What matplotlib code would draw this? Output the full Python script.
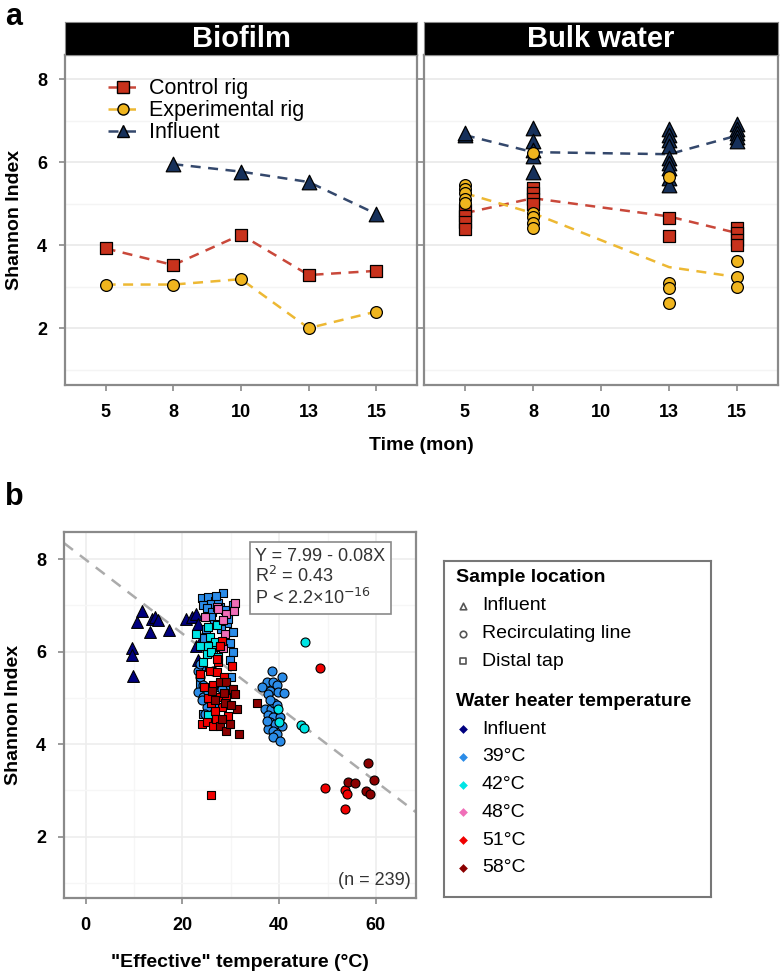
import matplotlib
matplotlib.use('Agg')
import matplotlib.pyplot as plt
from matplotlib.lines import Line2D
import numpy as np

plt.rcParams['font.family'] = ['Liberation Sans', 'DejaVu Sans']

# ---------------- panel a data ----------------
months = ['5', '8', '10', '13', '15']

bio_control = [3.92, 3.52, 4.25, 3.28, 3.38]
bio_exper = [3.05, 3.05, 3.18, 2.00, 2.40]
bio_influent = [np.nan, 5.95, 5.77, 5.52, 4.75]

bulk_months = ['5', '8', '13', '15']
bulk_influent = {'5': [6.65, 6.70],
                 '8': [6.82, 6.50, 6.30, 6.15, 5.77],
                 '13': [6.80, 6.65, 6.53, 6.39, 6.10, 5.98, 5.86, 5.62, 5.45],
                 '15': [6.92, 6.80, 6.70, 6.60, 6.50]}
bulk_control = {'5': [4.85, 4.70, 4.55, 4.40],
                '8': [5.38, 5.25, 5.10, 5.00],
                '13': [4.65, 4.22],
                '15': [4.41, 4.29, 4.12, 4.00]}
bulk_exper = {'5': [5.45, 5.35, 5.25, 5.12, 5.02],
              '8': [6.22, 4.77, 4.67, 4.53, 4.41],
              '13': [5.64, 3.08, 2.96, 2.60],
              '15': [3.61, 3.23, 2.99]}
bulk_influent_mean = [6.65, 6.24, 6.19, 6.64]
bulk_control_mean = [4.77, 5.13, 4.69, 4.29]
bulk_exper_mean = [5.25, 4.77, 3.47, 3.23]

# ---------------- panel b data ----------------
infl_tri_x = [9.5, 9.6, 9.8, 10.5, 11.7, 13.3, 13.6, 14.3, 15.0, 17.3, 20.8, 21.9, 22.9, 23.2, 22.9, 23.2, 24.0]
infl_tri_y = [6.08, 5.92, 5.48, 6.64, 6.89, 6.42, 6.71, 6.75, 6.69, 6.48, 6.71, 6.75, 6.82, 6.60, 6.13, 5.82, 6.30]

t39_sq_x = [28.3, 24.0, 25.3, 26.7, 24.3, 27.7, 30.5, 30.4, 29.8, 30.5, 29.8, 30.0, 23.6, 27.7, 29.8,
            24.3, 25.3, 23.6, 23.9, 26.0, 27.4, 25.0, 26.2, 28.9, 24.8, 29.2,
            25.8, 26.5, 28.0, 29.5, 24.5, 27.0]
t39_sq_y = [7.28, 7.17, 7.18, 7.10, 7.00, 6.97, 7.00, 6.42, 6.18, 5.99, 5.81, 5.45, 5.30, 5.23, 5.20,
            4.65, 4.58, 5.48, 5.66, 7.04, 7.05, 6.95, 6.85, 6.90, 6.50, 6.62,
            6.75, 6.60, 6.50, 6.70, 6.30, 7.20]
t39_ci_x = [23.3, 23.6, 24.3, 23.3, 24.3, 25.3, 28.1, 29.1, 25.0, 24.6, 25.7, 23.6, 26.4, 24.0, 26.8,
            38.6, 37.4, 38.8, 40.5, 39.5, 36.4, 38.1, 39.8, 40.9, 37.7, 37.1, 38.4, 37.7, 38.8,
            38.1, 39.1, 37.7, 38.8, 39.5, 38.8, 40.2, 37.4, 40.5, 40.2, 39.0, 38.2, 39.5]
t39_ci_y = [5.59, 5.45, 5.27, 5.12, 5.01, 5.12, 5.20, 5.09, 4.80, 4.65, 4.58, 5.74, 5.59, 4.95, 4.85,
            5.58, 5.34, 5.34, 5.45, 5.27, 5.23, 5.16, 5.12, 5.10, 5.09, 4.76, 4.76, 4.62, 4.58,
            4.47, 4.44, 4.33, 4.29, 4.22, 4.15, 4.07, 4.51, 4.40, 4.58, 4.90, 4.95, 4.85]
t42_sq_x = [22.9, 25.3, 27.1, 25.7, 23.6, 25.0, 26.4, 24.3, 25.3, 26.7, 25.3, 26.0, 27.4]
t42_sq_y = [6.39, 6.53, 6.57, 6.31, 6.13, 5.95, 6.03, 5.77, 4.62, 6.21, 6.13, 5.99, 5.88]
t42_ci_x = [39.8, 40.0, 45.3, 44.5, 45.2]
t42_ci_y = [4.76, 4.47, 6.21, 4.42, 4.35]
t48_sq_x = [27.1, 24.6, 29.1, 30.8, 28.4, 28.8, 27.7, 27.4, 30.7, 28.4]
t48_sq_y = [6.97, 6.75, 6.82, 7.05, 6.68, 6.39, 6.10, 6.93, 6.89, 6.08]
t51_sq_x = [23.6, 25.7, 27.1, 24.4, 26.4, 27.4, 27.7, 26.0, 28.1, 26.7, 24.0, 25.0, 26.4, 30.2,
            28.1, 27.7, 25.9, 27.1, 29.0, 25.2, 28.6, 27.0, 29.5]
t51_sq_y = [5.52, 5.59, 5.56, 5.23, 5.27, 5.77, 5.01, 4.90, 4.80, 4.72, 4.44, 4.47, 4.40, 5.70,
            6.24, 6.13, 2.90, 5.85, 5.00, 5.00, 5.45, 4.55, 4.60]
t51_ci_x = [48.4, 49.5, 53.6, 53.6, 54.0]
t51_ci_y = [5.65, 3.05, 2.59, 3.00, 2.92]
t58_sq_x = [27.7, 29.1, 30.5, 30.8, 28.8, 31.3, 27.7, 29.1, 31.7, 35.5, 29.8, 28.5, 26.8,
            26.2, 30.0, 28.2]
t58_sq_y = [5.34, 5.34, 5.20, 5.09, 4.90, 4.76, 4.40, 4.29, 4.22, 4.90, 4.44, 5.10, 4.95,
            5.15, 4.85, 4.55]
t58_ci_x = [54.3, 55.7, 58.4, 59.6, 57.9, 58.8]
t58_ci_y = [3.19, 3.15, 3.60, 3.22, 2.99, 2.93]

fit_a, fit_b = 7.99, -0.08
temp_labels = ['Influent', '39°C', '42°C', '48°C', '51°C', '58°C']
temp_colors = ['#00007F', '#2B8CE8', '#00E5E5', '#F06EB8', '#F00000', '#8B0000']

c_ctrl, c_exp, c_inf = '#C8321C', '#F0B51E', '#16305A'
l_ctrl, l_exp, l_inf = '#C9483A', '#EDB833', '#34486C'
spine_c = '#8A8A8A'

W, H = 781, 973
fig = plt.figure(figsize=(W / 100, H / 100), dpi=100)


def fax(x0, y0, x1, y1):
    return fig.add_axes([x0 / W, 1 - y1 / H, (x1 - x0) / W, (y1 - y0) / H])


def style(ax):
    for s in ax.spines.values():
        s.set_color(spine_c)
        s.set_linewidth(1.6)
    ax.tick_params(colors=spine_c, length=4, width=1.2, labelcolor='black', labelsize=13)
    ax.tick_params(axis='x', pad=10)
    ax.tick_params(axis='y', pad=9)
    for lab in ax.get_xticklabels() + ax.get_yticklabels():
        lab.set_fontweight('bold')


# ---------------- panel a ----------------
ax1 = fax(65, 55, 417, 385)
ax2 = fax(424, 55, 778, 385)
pos = np.arange(len(months))
bpos = [months.index(m) for m in bulk_months]

for ax in (ax1, ax2):
    ax.set_xlim(-0.6, 4.6)
    ax.set_ylim(0.63, 8.58)
    ax.set_yticks([2, 4, 6, 8])
    ax.set_yticks([1, 3, 5, 7], minor=True)
    ax.tick_params(which='minor', length=0)
    ax.grid(axis='y', which='major', color='#EBEBEB', lw=1.3, zorder=0)
    ax.grid(axis='y', which='minor', color='#F4F4F4', lw=1.0, zorder=0)
    ax.set_xticks(pos)
    ax.set_xticklabels(months)
    ax.set_axisbelow(True)

ms_kw = dict(edgecolors='black', linewidths=0.9, zorder=3)
dash = (0, (4, 3))

ax1.plot(pos, bio_control, ls=dash, color=l_ctrl, lw=1.8, zorder=2)
ax1.plot(pos, bio_exper, ls=dash, color=l_exp, lw=1.8, zorder=2)
ax1.plot(pos, bio_influent, ls=dash, color=l_inf, lw=1.8, zorder=2)
ax1.scatter(pos, bio_control, marker='s', s=75, color=c_ctrl, **ms_kw)
ax1.scatter(pos, bio_exper, marker='o', s=72, color=c_exp, **ms_kw)
ax1.scatter(pos, bio_influent, marker='^', s=110, color=c_inf, **ms_kw)

ax2.plot(bpos, bulk_influent_mean, ls=dash, color=l_inf, lw=1.8, zorder=2)
ax2.plot(bpos, bulk_control_mean, ls=dash, color=l_ctrl, lw=1.8, zorder=2)
ax2.plot(bpos, bulk_exper_mean, ls=dash, color=l_exp, lw=1.8, zorder=2)
for m in bulk_months:
    i = months.index(m)
    ax2.scatter([i] * len(bulk_influent[m]), bulk_influent[m], marker='^', s=110, color=c_inf, **ms_kw)
    ax2.scatter([i] * len(bulk_control[m]), bulk_control[m], marker='s', s=75, color=c_ctrl, **ms_kw)
    ax2.scatter([i] * len(bulk_exper[m]), bulk_exper[m], marker='o', s=72, color=c_exp, **ms_kw)

ax1.set_ylabel('Shannon Index', fontsize=14, fontweight='bold', labelpad=10)
ax2.set_yticklabels([])
ax2.tick_params(axis='y', length=0)
style(ax1)
style(ax2)

handles = [Line2D([], [], color=l_ctrl, ls=dash, lw=1.8, marker='s', ms=8, mfc=c_ctrl, mec='black'),
           Line2D([], [], color=l_exp, ls=dash, lw=1.8, marker='o', ms=8, mfc=c_exp, mec='black'),
           Line2D([], [], color=l_inf, ls=dash, lw=1.8, marker='^', ms=9, mfc=c_inf, mec='black')]
ax1.legend(handles, ['Control rig', 'Experimental rig', 'Influent'], loc='upper left',
           bbox_to_anchor=(0.08, 0.975), frameon=False, fontsize=15.5, handlelength=1.4,
           handletextpad=0.5, labelspacing=0.05, borderpad=0.2)

for ax, title, (x0, x1) in ((ax1, 'Biofilm', (65, 417)), (ax2, 'Bulk water', (424, 778))):
    st = fax(x0, 22, x1, 55)
    st.set_facecolor('black')
    st.set_xticks([])
    st.set_yticks([])
    for s in st.spines.values():
        s.set_color(spine_c)
    st.text(0.5, 0.47, title, color='white', fontsize=21, fontweight='bold',
            ha='center', va='center', transform=st.transAxes)

fig.text(421 / W, 1 - 445 / H, 'Time (mon)', fontsize=14, fontweight='bold', ha='center', va='center')
fig.text(5 / W, 1 - 17 / H, 'a', fontsize=22, fontweight='bold', ha='left', va='center')

# ---------------- panel b ----------------
axb = fax(64, 532, 416, 898)
axb.set_xlim(-4.5, 68.3)
axb.set_ylim(0.67, 8.59)
axb.set_yticks([2, 4, 6, 8])
axb.set_yticks([1, 3, 5, 7], minor=True)
axb.set_xticks([0, 20, 40, 60])
axb.set_xticks([10, 30, 50], minor=True)
axb.tick_params(which='minor', length=0)
axb.grid(which='major', color='#EDEDED', lw=1.2, zorder=0)
axb.grid(which='minor', color='#F6F6F6', lw=1.0, zorder=0)
axb.set_axisbelow(True)

xx = np.array(axb.get_xlim())
axb.plot(xx, fit_a + fit_b * xx, ls=(0, (4.5, 3.5)), color='#ABABAB', lw=1.8, zorder=2)

kb = dict(edgecolors='black', linewidths=0.8, zorder=3)
axb.scatter(infl_tri_x, infl_tri_y, marker='^', s=72, color=temp_colors[0], **kb)
groups = [(t39_sq_x, t39_sq_y, 's', 1), (t39_ci_x, t39_ci_y, 'o', 1),
          (t42_sq_x, t42_sq_y, 's', 2), (t42_ci_x, t42_ci_y, 'o', 2),
          (t48_sq_x, t48_sq_y, 's', 3),
          (t51_sq_x, t51_sq_y, 's', 4), (t51_ci_x, t51_ci_y, 'o', 4),
          (t58_sq_x, t58_sq_y, 's', 5), (t58_ci_x, t58_ci_y, 'o', 5)]
for gx, gy, mk, ci in groups:
    axb.scatter(gx, gy, marker=mk, s=40 if mk == 's' else 42, color=temp_colors[ci], **kb)

fig.text(255 / W, 1 - 578 / H,
         'Y = 7.99 - 0.08X\nR$^2$ = 0.43\nP < 2.2×10$^{-16}$',
         fontsize=13, color='#333333', ha='left', va='center', linespacing=1.1,
         bbox=dict(boxstyle='square,pad=0.3', fc='white', ec='#8A8A8A', lw=1.2))
axb.text(0.985, 0.025, '(n = 239)', transform=axb.transAxes, ha='right', va='bottom',
         fontsize=13, color='#333333')

axb.set_ylabel('Shannon Index', fontsize=14, fontweight='bold', labelpad=10)
axb.set_xlabel('"Effective" temperature (°C)', fontsize=14, fontweight='bold', labelpad=14)
style(axb)
fig.text(5 / W, 1 - 497 / H, 'b', fontsize=22, fontweight='bold', ha='left', va='center')

# legend box for panel b
lg = fax(444, 561, 711, 897)
lg.set_xlim(444, 711)
lg.set_ylim(897, 561)
lg.set_xticks([])
lg.set_yticks([])
for s in lg.spines.values():
    s.set_color('#777777')
    s.set_linewidth(1.5)
mx, tx = 463, 482
lg.text(456, 578, 'Sample location', fontsize=14, fontweight='bold', va='center')
shape_labels = ['Influent', 'Recirculating line', 'Distal tap']
shape_marks = ['^', 'o', 's']
for k, (lab, mk) in enumerate(zip(shape_labels, shape_marks)):
    yk = 606 + k * 27.5
    lg.scatter([mx], [yk], marker=mk, s=22, facecolors='white', edgecolors='#555555', linewidths=1.2)
    lg.text(tx, yk, lab, fontsize=14, va='center')
lg.text(456, 701, 'Water heater temperature', fontsize=14, fontweight='bold', va='center')
for k, (lab, col) in enumerate(zip(temp_labels, temp_colors)):
    yk = 729 + k * 27.8
    lg.scatter([mx], [yk], marker='D', s=20, color=col, linewidths=0)
    lg.text(tx, yk, lab, fontsize=14, va='center')

fig.savefig('out.png', dpi=100)
